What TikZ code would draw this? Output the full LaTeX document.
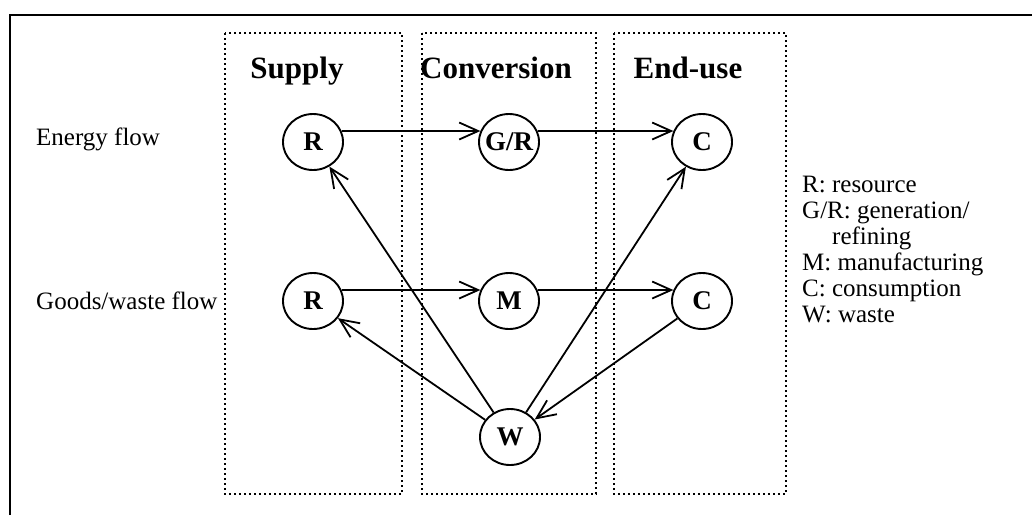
\documentclass[tikz,border=0pt]{standalone}
\usepackage{fontspec}
\setmainfont{Liberation Serif}
\usetikzlibrary{arrows.meta,shapes.geometric}
\begin{document}
\begin{tikzpicture}[x=1pt,y=-1pt,
  frame/.style={line width=2pt},
  zone/.style={line width=1.7pt,dash pattern=on 1.7pt off 3.3pt},
  head/.style={font=\fontsize{31}{34}\selectfont\bfseries,anchor=base,inner sep=0pt},
  lbl/.style={font=\fontsize{25}{27}\selectfont,anchor=base west,inner sep=0pt},
  st/.style={ellipse,draw,line width=1.9pt,minimum width=60pt,minimum height=56pt,inner sep=0pt,font=\fontsize{27}{29}\selectfont\bfseries},
  flow/.style={line width=1.8pt,-{Straight Barb[length=19pt,width=17pt,line width=1.8pt]}}]
\useasboundingbox (0,0) rectangle (1032,515);
\draw[frame] (10,515) -- (10,15) -- (1032,15);
% zones
\draw[zone] (225,33) rectangle (402,494);
\draw[zone] (422,33) rectangle (596,494);
\draw[zone] (614,33) rectangle (786,494);
\node[head] (hs) at (297,78) {Supply};
\node[head] (hc) at (496,78) {Conversion};
\node[head] (he) at (688,78) {End-use};
% row labels
\node[lbl] (ef) at (36,145) {Energy flow};
\node[lbl] (gf) at (36,309) {Goods/waste flow};
% states
\node[st] (R1) at (313,142) {R};
\node[st] (GR) at (509,142) {\makebox[0pt][c]{G/R}};
\node[st] (C1) at (702,142) {C};
\node[st] (R2) at (313,301) {R};
\node[st] (M) at (509,301) {M};
\node[st] (C2) at (702,301) {C};
\node[st] (W) at (510,437) {W};
% flows
\draw[flow] (R1.21) -- (GR.159);
\draw[flow] (GR.21) -- (C1.159);
\draw[flow] (R2.21) -- (M.159);
\draw[flow] (M.21) -- (C2.159);
\draw[flow] (W) -- (R1);
\draw[flow] (W) -- (C1);
\draw[flow] (C2) -- (W);
\draw[flow] (W) -- (R2);
% legend
\node[lbl] (l1) at (802,192) {R: resource};
\node[lbl] (l2) at (802,218) {G/R: generation/};
\node[lbl] (l3) at (832,244) {refining};
\node[lbl] (l4) at (802,270) {M: manufacturing};
\node[lbl] (l5) at (802,296) {C: consumption};
\node[lbl] (l6) at (802,322) {W: waste};
\end{tikzpicture}
\end{document}
